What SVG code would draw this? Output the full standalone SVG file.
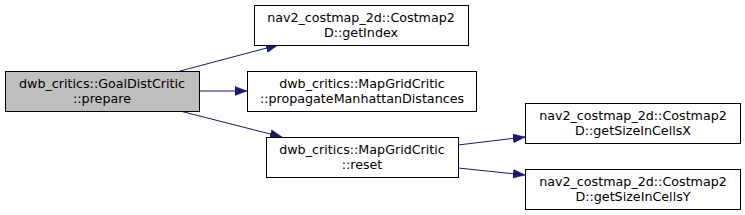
<svg xmlns="http://www.w3.org/2000/svg" width="745" height="215" viewBox="0 0 745 215">
<style>
.n rect{fill:#fff;stroke:#000;stroke-width:1}
.root rect{fill:#bfbfbf}
text{font-family:"DejaVu Sans",sans-serif;font-size:12.7px;fill:#000;text-anchor:middle}
.e{fill:none;stroke:#191970;stroke-width:1}
</style>
<defs>
<marker id="a" viewBox="0 0 12 10" refX="12" refY="5" markerWidth="12" markerHeight="10" markerUnits="userSpaceOnUse" orient="auto"><path d="M0,0.5L12,5L0,9.5z" fill="#191970" stroke="#191970" stroke-width="0.5"/></marker>
</defs>
<rect width="745" height="215" fill="#fff"/>
<g id="edges">
<path class="e" d="M180,71L278,45" marker-end="url(#a)"/>
<path class="e" d="M199,91L247,91" marker-end="url(#a)"/>
<path class="e" d="M180,111L282,137" marker-end="url(#a)"/>
<path class="e" d="M458,145L525,137" marker-end="url(#a)"/>
<path class="e" d="M458,168L525,175" marker-end="url(#a)"/>
</g>
<g id="n1" class="n root"><rect x="5.5" y="71.5" width="194" height="40"/><text x="102" y="88">dwb_critics::GoalDistCritic</text><text x="102" y="103">::prepare</text></g>
<g id="n2" class="n"><rect x="254.5" y="5.5" width="214" height="40"/><text x="361" y="22">nav2_costmap_2d::Costmap2</text><text x="361" y="37">D::getIndex</text></g>
<g id="n3" class="n"><rect x="247.5" y="71.5" width="229" height="40"/><text x="362" y="88">dwb_critics::MapGridCritic</text><text x="362" y="103">::propagateManhattanDistances</text></g>
<g id="n4" class="n"><rect x="266.5" y="137.5" width="192" height="40"/><text x="362" y="154">dwb_critics::MapGridCritic</text><text x="362" y="169">::reset</text></g>
<g id="n5" class="n"><rect x="525.5" y="103.5" width="215" height="40"/><text x="633" y="120">nav2_costmap_2d::Costmap2</text><text x="633" y="135">D::getSizeInCellsX</text></g>
<g id="n6" class="n"><rect x="525.5" y="169.5" width="215" height="40"/><text x="633" y="186">nav2_costmap_2d::Costmap2</text><text x="633" y="201">D::getSizeInCellsY</text></g>
</svg>
